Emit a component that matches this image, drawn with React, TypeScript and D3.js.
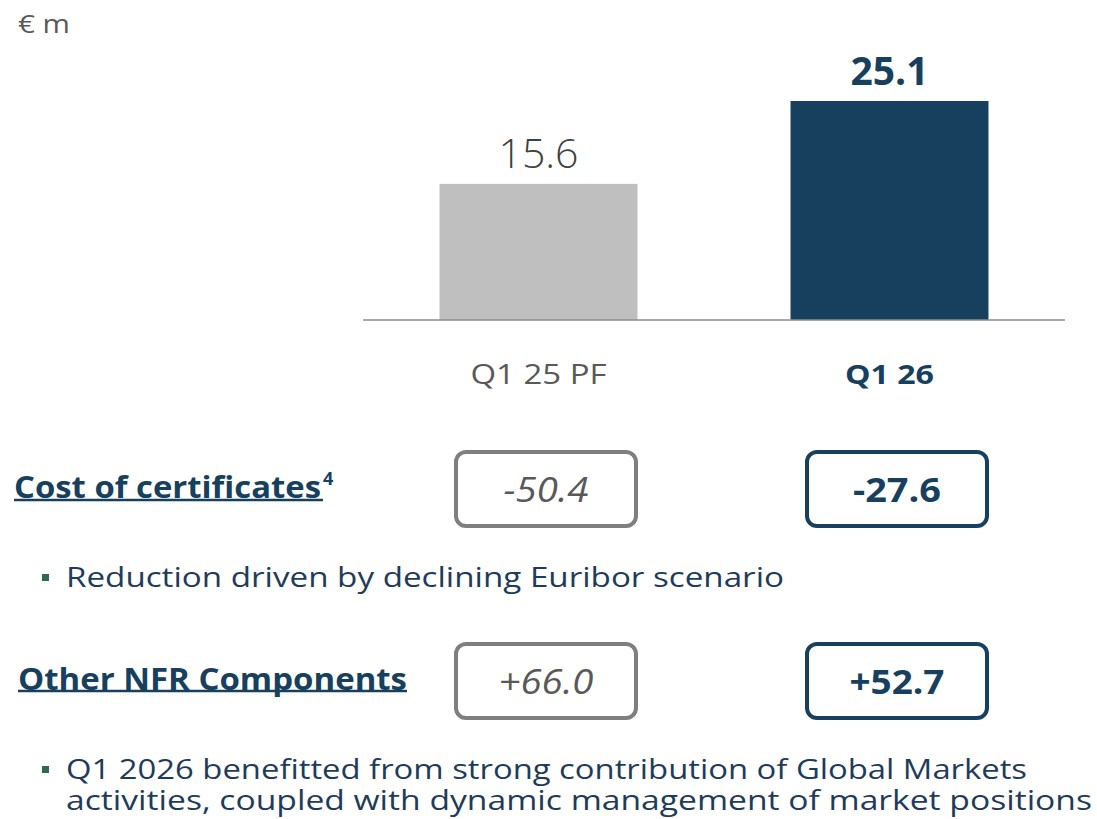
import React from "react";
import * as d3 from "d3";

const categories = ["Q1 25 PF", "Q1 26"];
const values = [15.6, 25.1];

const rowLabels = ["Cost of certificates", "Other NFR Components"];
const prevValues = ["-50.4", "+66.0"];
const currValues = ["-27.6", "+52.7"];
const bullets = [
  ["Reduction driven by declining Euribor scenario"],
  [
    "Q1 2026 benefitted from strong contribution of Global Markets",
    "activities, coupled with dynamic management of market positions",
  ],
];

const W = 1097;
const H = 819;
const DARK = "#17405f";
const GREY_BAR = "#bfbfbf";
const GREY_TEXT = "#595959";
const FONT = "'Open Sans', Lato, sans-serif";

const catWidth = [136, 89];
const valWidth = [80, 78];
const headWidth = [307, 389];
const prevWidth = [85, 95];
const currWidth = [88, 95];
const bulletWidth = [[718], [961, 1026]];

export default function App() {
  const x = d3
    .scaleBand<string>()
    .domain(categories)
    .range([363, 1065])
    .paddingInner(0.436)
    .paddingOuter(0.218);
  const y = d3.scaleLinear().domain([0, d3.max(values) as number]).range([320, 101]);

  const boxX = [546, 897];
  const rowY = [489, 681];
  const headingX = [14, 18];
  const underY = [500, 691];
  const bulletY = [[587], [779, 810]];
  const fit = (w: number) => ({ textLength: w, lengthAdjust: "spacingAndGlyphs" as const });

  return (
    <svg
      width={W}
      height={H}
      style={{ position: "fixed", left: 0, top: 0, background: "#fff" }}
      fontFamily={FONT}
    >
      <text x={18} y={33} fontSize={25} fill={GREY_TEXT} {...fit(52)}>
        € m
      </text>

      {categories.map((c, i) => {
        const last = i === categories.length - 1;
        const cx = (x(c) as number) + x.bandwidth() / 2;
        return (
          <g key={c}>
            <rect
              x={x(c)}
              y={y(values[i])}
              width={x.bandwidth()}
              height={y(0) - y(values[i])}
              fill={last ? DARK : GREY_BAR}
            />
            <text
              x={cx - valWidth[i] / 2}
              y={y(values[i]) - 16}
              fontSize={40}
              fontWeight={last ? 700 : 300}
              fill={last ? DARK : "#404040"}
              {...fit(valWidth[i])}
            >
              {values[i].toFixed(1)}
            </text>
            <text
              x={cx - catWidth[i] / 2}
              y={384}
              fontSize={27}
              fontWeight={last ? 700 : 400}
              fill={last ? DARK : GREY_TEXT}
              {...fit(catWidth[i])}
            >
              {c}
            </text>
          </g>
        );
      })}
      <line x1={363} x2={1065} y1={y(0)} y2={y(0)} stroke="#8c8c8c" strokeWidth={1.5} />

      {rowLabels.map((lab, r) => (
        <g key={lab}>
          <text
            x={headingX[r]}
            y={rowY[r] + 9}
            fontSize={30}
            fontWeight={700}
            fill={DARK}
            {...fit(headWidth[r])}
          >
            {lab}
          </text>
          {r === 0 && (
            <text x={headingX[r] + headWidth[r] + 2} y={rowY[r] - 4} fontSize={18} fontWeight={700} fill={DARK}>
              4
            </text>
          )}
          <line
            x1={headingX[r]}
            x2={headingX[r] + headWidth[r] + (r === 0 ? 2 : 0)}
            y1={underY[r]}
            y2={underY[r]}
            stroke={DARK}
            strokeWidth={2.5}
          />
          <rect
            x={boxX[0] - 90}
            y={rowY[r] - 37}
            width={180}
            height={74}
            rx={10}
            fill="#fff"
            stroke="#7f7f7f"
            strokeWidth={4}
          />
          <text
            x={boxX[0] - prevWidth[r] / 2}
            y={rowY[r] + 13}
            fontSize={34}
            fontStyle="italic"
            fontWeight={400}
            fill={GREY_TEXT}
            {...fit(prevWidth[r])}
          >
            {prevValues[r]}
          </text>
          <rect
            x={boxX[1] - 90}
            y={rowY[r] - 37}
            width={180}
            height={74}
            rx={10}
            fill="#fff"
            stroke={DARK}
            strokeWidth={4}
          />
          <text
            x={boxX[1] - currWidth[r] / 2}
            y={rowY[r] + 13}
            fontSize={34}
            fontWeight={700}
            fill={DARK}
            {...fit(currWidth[r])}
          >
            {currValues[r]}
          </text>
          <rect x={42} y={bulletY[r][0] - 13} width={7} height={7} fill="#2e6b4f" />
          {bullets[r].map((t, k) => (
            <text key={k} x={66} y={bulletY[r][k]} fontSize={28} fill="#1f3b5c" {...fit(bulletWidth[r][k])}>
              {t}
            </text>
          ))}
        </g>
      ))}
    </svg>
  );
}
